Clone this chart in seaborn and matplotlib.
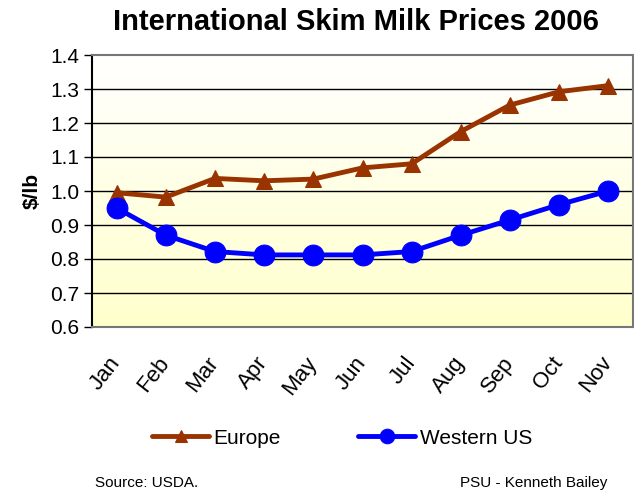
import numpy as np
import pandas as pd
import matplotlib
matplotlib.use("Agg")
import matplotlib.pyplot as plt
import seaborn as sns
from matplotlib.colors import LinearSegmentedColormap

months = ["Jan", "Feb", "Mar", "Apr", "May", "Jun", "Jul", "Aug", "Sep", "Oct", "Nov"]
europe = [0.995, 0.982, 1.037, 1.030, 1.035, 1.068, 1.080, 1.175, 1.253, 1.292, 1.310]
western_us = [0.950, 0.870, 0.822, 0.812, 0.812, 0.812, 0.822, 0.870, 0.915, 0.960, 1.000]
yticks = [0.6, 0.7, 0.8, 0.9, 1.0, 1.1, 1.2, 1.3, 1.4]

sns.set_style("white")
plt.rcParams["font.family"] = ["Liberation Sans", "DejaVu Sans"]
plt.rcParams["text.color"] = "black"
plt.rcParams["axes.labelcolor"] = "black"
plt.rcParams["xtick.color"] = "black"
plt.rcParams["ytick.color"] = "black"

df = pd.DataFrame({"Month": months * 2,
                   "Price": europe + western_us,
                   "Series": ["Europe"] * len(months) + ["Western US"] * len(months)})

fig = plt.figure(figsize=(6.34, 4.94), dpi=100)
ax = fig.add_axes([92 / 634, 1 - 327 / 494, (633 - 92) / 634, (327 - 55) / 494])

# gradient background
cmap = LinearSegmentedColormap.from_list("bg", ["#FFFFFF", "#FFFFCC"])
grad = np.linspace(0, 1, 256).reshape(-1, 1)
ax.imshow(grad, cmap=cmap, aspect="auto", extent=(-0.5, 10.5, 0.6, 1.4),
          origin="upper", zorder=0)

for yv in yticks[1:-1]:
    ax.axhline(yv, color="black", lw=1.0, zorder=1)

sns.lineplot(data=df[df.Series == "Europe"], x="Month", y="Price", color="#993300",
             marker="^", markersize=12, markeredgecolor="#993300", lw=3.5,
             ax=ax, zorder=3, label="Europe", sort=False)
sns.lineplot(data=df[df.Series == "Western US"], x="Month", y="Price", color="#0000FF",
             marker="o", markersize=15, markeredgecolor="#0000FF", lw=3.5,
             ax=ax, zorder=4, label="Western US", sort=False)

ax.set_xlim(-0.5, 10.5)
ax.set_ylim(0.6, 1.4)
ax.set_yticks(yticks)
ax.set_yticklabels([f"{v:.1f}" for v in yticks], fontsize=15)
ax.set_xticks(range(len(months)))
ax.set_xticklabels(months, fontsize=16, rotation=52, ha="right", va="center",
                   rotation_mode="anchor")
ax.set_xticks(np.arange(-0.5, 11, 1), minor=True)
ax.tick_params(axis="x", which="major", length=0, pad=23)
ax.tick_params(axis="x", which="minor", length=6, width=1, color="#555555", direction="out")
ax.tick_params(axis="y", which="major", length=6, width=1, color="black", direction="out", left=True, pad=3)
ax.set_xlabel("")
ax.set_ylabel("$/lb", fontsize=15, fontweight="bold", labelpad=6)

for s in ["top", "right", "bottom"]:
    ax.spines[s].set_color("#777777")
    ax.spines[s].set_linewidth(1.5)
ax.spines["left"].set_color("black")
ax.spines["left"].set_linewidth(1.5)

fig.text(356 / 634, 1 - 22 / 494, "International Skim Milk Prices 2006", ha="center", va="center",
         fontsize=21, fontweight="bold", color="black")

if ax.legend_:
    ax.legend_.remove()
handles, labels = ax.get_legend_handles_labels()
fig.legend(handles, labels, loc="center", bbox_to_anchor=(342 / 634, 1 - 438 / 494), ncol=2,
           frameon=False, fontsize=15, handlelength=2.75, columnspacing=3.7, handletextpad=0.2,
           markerscale=0.7, labelcolor="black")

fig.text(95 / 634, 1 - 483 / 494, "Source: USDA.", ha="left", va="center", fontsize=11)
fig.text(607 / 634, 1 - 483 / 494, "PSU - Kenneth Bailey", ha="right", va="center", fontsize=11)

fig.savefig("out.png", dpi=100)
